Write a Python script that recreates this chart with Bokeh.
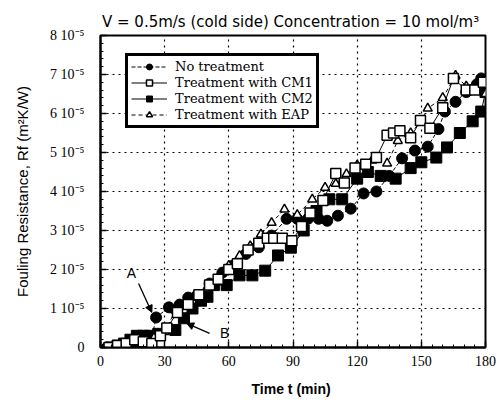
from bokeh.plotting import figure
from bokeh.models import (Legend, LegendItem, Range1d, FixedTicker, Arrow,
                          NormalHead, Label, ColumnDataSource)
from bokeh.embed import file_html
from bokeh.resources import INLINE

# Fouling resistance values are in units of 1e-5 m2K/W
t_none = [3, 6, 9, 12, 15, 18, 21, 24, 26, 32, 37, 41, 45, 51, 57, 62, 68, 74, 80, 87,
          92, 97, 102, 106, 111, 117, 123, 129, 135, 141, 147, 153, 158, 161, 166, 171, 176, 178]
rf_none = [0.0, 0.0, 0.05, 0.1, 0.12, 0.15, 0.2, 0.25, 0.77, 1.03, 1.1, 1.28, 1.33, 1.64, 1.92,
           2.1, 2.4, 2.57, 2.87, 3.3, 3.3, 3.3, 3.3, 3.25, 3.38, 3.56, 3.95, 4.0, 4.4, 4.85,
           5.05, 5.15, 5.6, 6.05, 6.3, 6.55, 6.75, 6.9]

t_cm1 = [4, 8, 12, 16, 20, 24, 28, 31, 36, 41, 46, 51, 55, 60, 64, 69, 74, 78, 81, 85, 89.5,
         94, 98, 104, 110, 114, 119, 124, 129, 134, 137, 140, 145, 149.6, 154, 160, 165, 171,
         175, 179]
rf_cm1 = [0.0, 0.05, 0.1, 0.2, 0.15, 0.1, 0.3, 0.5, 0.9, 1.1, 1.35, 1.6, 1.75, 2.0, 2.15, 2.5,
          2.67, 2.8, 2.8, 2.8, 2.74, 3.1, 3.45, 3.77, 4.46, 4.22, 4.6, 4.7, 4.87, 5.44, 5.5,
          5.56, 5.38, 5.82, 5.62, 6.15, 6.9, 6.6, 6.6, 6.8]

t_cm2 = [5, 8, 11, 14, 17, 20, 23, 27, 35, 39, 43, 47, 50, 53, 59, 65, 71, 77, 83, 89, 95,
         101, 107, 113, 120, 125, 131, 138, 145, 150, 157, 162, 168, 174, 178, 180]
rf_cm2 = [0.0, 0.05, 0.1, 0.2, 0.3, 0.3, 0.3, 0.35, 0.45, 0.75, 1.0, 1.2, 1.3, 1.6, 1.6, 1.85,
          1.85, 1.97, 2.36, 2.56, 3.0, 3.5, 3.8, 3.8, 4.33, 4.5, 4.4, 4.33, 4.6, 4.75, 4.87,
          5.13, 5.5, 5.8, 6.05, 6.55]

t_eap = [5, 10, 15, 20, 25, 30, 35, 40, 45, 50, 55, 60, 65, 70, 75, 80, 86, 92, 99, 105, 110,
         115, 120, 127, 134, 139, 145, 150, 153, 160, 166, 171, 176, 180]
rf_eap = [0.0, 0.05, 0.15, 0.2, 0.25, 0.4, 0.95, 1.15, 1.35, 1.55, 1.8, 2.1, 2.35, 2.6, 2.9,
          3.2, 3.54, 3.4, 3.8, 4.1, 4.2, 4.45, 4.67, 4.8, 4.72, 5.3, 5.5, 5.8, 6.13, 6.4, 6.97,
          6.7, 6.6, 6.5]

series_labels = ["No treatment", "Treatment with CM1", "Treatment with CM2", "Treatment with EAP"]
x_ticks = [0, 30, 60, 90, 120, 150, 180]
y_ticks = [0, 1, 2, 3, 4, 5, 6, 7, 8]
y_tick_labels = ["0", "1 10\u207b\u2075", "2 10\u207b\u2075", "3 10\u207b\u2075", "4 10\u207b\u2075",
                 "5 10\u207b\u2075", "6 10\u207b\u2075", "7 10\u207b\u2075", "8 10\u207b\u2075"]

# annotation arrows (data units)
a_label = (14.5, 1.9)
a_arrow = (17.8, 1.64, 24.0, 0.9)
b_label = (58.0, 0.38)
b_arrow = (51.0, 0.36, 40.3, 0.62)

p = figure(width=499, height=403, x_range=Range1d(0, 180), y_range=Range1d(0, 8),
           output_backend="svg", toolbar_location=None,
           min_border_left=100, min_border_right=14, min_border_top=35, min_border_bottom=56)
p.background_fill_color = "white"
p.border_fill_color = "white"
p.outline_line_color = "black"
p.outline_line_width = 2
p.outline_line_alpha = 1

p.title.text = "V = 0.5m/s (cold side)  Concentration = 10 mol/m\u00b3"
p.title.align = "center"
p.title.text_font = "DejaVu Sans"
p.title.text_font_size = "15px"
p.title.text_font_style = "normal"
p.title.text_color = "black"
p.title.offset = 12

serif = "Liberation Serif"
p.xaxis.ticker = FixedTicker(ticks=x_ticks, minor_ticks=list(range(0, 181, 5)))
p.yaxis.ticker = FixedTicker(ticks=y_ticks, minor_ticks=[i * 0.2 for i in range(41)])
p.yaxis.major_label_overrides = {t: l for t, l in zip(y_ticks, y_tick_labels)}
for ax in (p.xaxis[0], p.yaxis[0]):
    ax.axis_line_width = 2
    ax.major_tick_in = 6
    ax.major_tick_out = 0
    ax.minor_tick_in = 3
    ax.minor_tick_out = 0
    ax.major_tick_line_width = 1.5
    ax.major_label_text_font = serif
    ax.major_label_text_font_size = "14px"
    ax.major_label_text_color = "black"
    ax.axis_label_text_font = "Liberation Sans"
    ax.axis_label_text_font_size = "14px"
    ax.axis_label_text_font_style = "normal"
    ax.axis_label_text_color = "black"
p.xaxis.major_label_standoff = 8
p.xaxis.axis_label = "Time  t (min)"
p.xaxis.axis_label_text_font_style = "bold"
p.xaxis.axis_label_standoff = 12
p.yaxis.major_label_standoff = 16
p.yaxis.axis_label = "Fouling Resistance, Rf (m\u00b2K/W)"
p.yaxis.axis_label_text_font_size = "15px"
p.yaxis.axis_label_standoff = 16

p.grid.grid_line_color = "black"
p.grid.grid_line_dash = "2 4"
p.grid.grid_line_width = 1.2

items = []
# No treatment: filled circles, dashed line
s = ColumnDataSource(dict(t=t_none, rf=rf_none))
l1 = p.line("t", "rf", source=s, line_color="black", line_width=1, line_dash="4 2")
m1 = p.scatter("t", "rf", source=s, marker="circle", size=11, fill_color="black", line_color="black")
items.append(LegendItem(label=series_labels[0], renderers=[l1, m1]))

# CM2: filled squares
s = ColumnDataSource(dict(t=t_cm2, rf=rf_cm2))
l3 = p.line("t", "rf", source=s, line_color="black", line_width=1)
m3 = p.scatter("t", "rf", source=s, marker="square", size=11, fill_color="black", line_color="black")

# EAP: open triangles, dashed line
s = ColumnDataSource(dict(t=t_eap, rf=rf_eap))
l4 = p.line("t", "rf", source=s, line_color="black", line_width=1, line_dash="4 3")
m4 = p.scatter("t", "rf", source=s, marker="triangle", size=9, fill_color="white",
               line_color="black", line_width=1.5)

# CM1: open squares, solid line
s = ColumnDataSource(dict(t=t_cm1, rf=rf_cm1))
l2 = p.line("t", "rf", source=s, line_color="black", line_width=1)
m2 = p.scatter("t", "rf", source=s, marker="square", size=10, fill_color="white",
               line_color="black", line_width=1.5)
items.append(LegendItem(label=series_labels[1], renderers=[l2, m2]))
items.append(LegendItem(label=series_labels[2], renderers=[l3, m3]))
items.append(LegendItem(label=series_labels[3], renderers=[l4, m4]))

legend = Legend(items=items, location=(25, 219))
legend.label_text_font = "DejaVu Serif"
legend.label_text_font_size = "13px"
legend.label_text_color = "black"
legend.label_height = 15
legend.glyph_height = 15
legend.glyph_width = 36
legend.label_standoff = 8
legend.spacing = 1
legend.padding = 3
legend.margin = 0
legend.border_line_color = "#000000"
legend.border_line_alpha = 1.0
legend.border_line_width = 3
legend.background_fill_color = "white"
legend.background_fill_alpha = 1.0
p.add_layout(legend, "center")

p.add_layout(Arrow(x_start=a_arrow[0], y_start=a_arrow[1], x_end=a_arrow[2], y_end=a_arrow[3],
                   line_width=1.3, line_color="black",
                   end=NormalHead(size=7, fill_color="black", line_color="black")))
p.add_layout(Arrow(x_start=b_arrow[0], y_start=b_arrow[1], x_end=b_arrow[2], y_end=b_arrow[3],
                   line_width=1.3, line_color="black",
                   end=NormalHead(size=7, fill_color="black", line_color="black")))
p.add_layout(Label(x=a_label[0], y=a_label[1], text="A", text_font="Liberation Sans",
                   text_font_size="14px", text_align="center", text_baseline="middle",
                   text_color="black"))
p.add_layout(Label(x=b_label[0], y=b_label[1], text="B", text_font="Liberation Sans",
                   text_font_size="14px", text_align="center", text_baseline="middle",
                   text_color="black"))

open("out.html", "w").write(file_html(p, INLINE))
